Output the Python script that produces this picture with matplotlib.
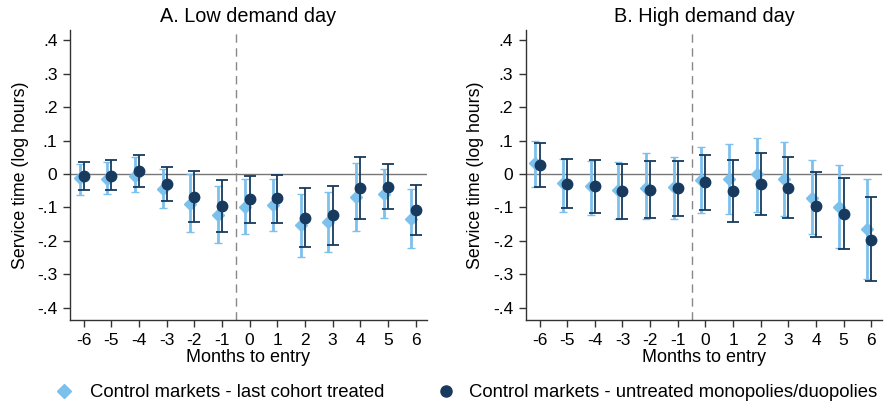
import matplotlib
matplotlib.use("Agg")
import matplotlib.pyplot as plt
import numpy as np
from matplotlib.lines import Line2D

plt.rcParams['font.family'] = ['Liberation Sans', 'DejaVu Sans']

months = [-6, -5, -4, -3, -2, -1, 0, 1, 2, 3, 4, 5, 6]
xtick_labels = ['-6', '-5', '-4', '-3', '-2', '-1', '0', '1', '2', '3', '4', '5', '6']
yticks = [-0.4, -0.3, -0.2, -0.1, 0.0, 0.1, 0.2, 0.3, 0.4]
ytick_labels = ['-.4', '-.3', '-.2', '-.1', '0', '.1', '.2', '.3', '.4']

# Panel A: low demand day
low_last_est = [-0.013, -0.015, -0.005, -0.045, -0.090, -0.122, -0.100, -0.093, -0.152, -0.144, -0.070, -0.060, -0.134]
low_last_hi = [0.030, 0.035, 0.050, 0.015, 0.000, -0.035, -0.015, -0.015, -0.060, -0.055, 0.032, 0.015, -0.045]
low_last_lo = [-0.062, -0.060, -0.055, -0.102, -0.172, -0.207, -0.179, -0.171, -0.247, -0.234, -0.169, -0.132, -0.221]
low_untr_est = [-0.007, -0.005, 0.010, -0.030, -0.068, -0.097, -0.075, -0.073, -0.131, -0.122, -0.042, -0.038, -0.106]
low_untr_hi = [0.035, 0.041, 0.057, 0.022, 0.008, -0.018, -0.005, -0.002, -0.043, -0.035, 0.050, 0.030, -0.033]
low_untr_lo = [-0.048, -0.048, -0.038, -0.082, -0.144, -0.174, -0.146, -0.147, -0.219, -0.211, -0.134, -0.104, -0.182]

# Panel B: high demand day
high_last_est = [0.033, -0.027, -0.035, -0.047, -0.042, -0.040, -0.018, -0.015, 0.000, -0.015, -0.072, -0.098, -0.164]
high_last_hi = [0.100, 0.045, 0.040, 0.037, 0.062, 0.052, 0.080, 0.089, 0.107, 0.097, 0.041, 0.027, -0.015]
high_last_lo = [-0.040, -0.114, -0.122, -0.134, -0.134, -0.134, -0.116, -0.120, -0.112, -0.124, -0.180, -0.220, -0.313]
high_untr_est = [0.028, -0.030, -0.037, -0.052, -0.047, -0.043, -0.025, -0.052, -0.030, -0.042, -0.095, -0.119, -0.196]
high_untr_hi = [0.092, 0.045, 0.042, 0.030, 0.038, 0.038, 0.058, 0.042, 0.062, 0.050, 0.005, -0.012, -0.070]
high_untr_lo = [-0.040, -0.102, -0.117, -0.134, -0.131, -0.126, -0.106, -0.144, -0.122, -0.132, -0.189, -0.224, -0.321]

titles = ['A. Low demand day', 'B. High demand day']
legend_labels = ['Control markets - last cohort treated', 'Control markets - untreated monopolies/duopolies']

light = '#7cc0ec'
dark = '#173a5e'

fig = plt.figure(figsize=(8.85, 4.09), dpi=100)
ax1 = fig.add_axes([0.079, 0.2176, 0.403, 0.709])
ax2 = fig.add_axes([0.594, 0.2176, 0.403, 0.709])

panels = [
    (ax1, low_last_est, low_last_lo, low_last_hi, low_untr_est, low_untr_lo, low_untr_hi),
    (ax2, high_last_est, high_last_lo, high_last_hi, high_untr_est, high_untr_lo, high_untr_hi),
]

x = np.array(months, dtype=float)
for i, (ax, le, ll, lh, ue, ul, uh) in enumerate(panels):
    ax.axhline(0, color='#777777', lw=1.0, zorder=1)
    ax.axvline(-0.5, color='#888888', lw=1.0, ls=(0, (6, 4)), zorder=1)
    le, ll, lh = np.array(le), np.array(ll), np.array(lh)
    ue, ul, uh = np.array(ue), np.array(ul), np.array(uh)
    ax.errorbar(x - 0.15, le, yerr=[le - ll, lh - le], fmt='D', color=light, ms=6,
                mec=light, ecolor=light, elinewidth=2.0, capsize=3, capthick=1.0, zorder=2)
    ax.errorbar(x, ue, yerr=[ue - ul, uh - ue], fmt='o', color=dark, ms=7.5,
                mec=dark, ecolor=dark, elinewidth=1.3, capsize=4, capthick=1.3, zorder=3)
    ax.set_xlim(-6.5, 6.4)
    ax.set_ylim(-0.436, 0.43)
    ax.set_xticks(months)
    ax.set_xticklabels(xtick_labels, fontsize=12.5)
    ax.set_yticks(yticks)
    ax.set_yticklabels(ytick_labels, fontsize=12.5)
    ax.tick_params(direction='out', length=5, width=1, color='#333333', pad=4)
    for s in ['top', 'right']:
        ax.spines[s].set_visible(False)
    for s in ['left', 'bottom']:
        ax.spines[s].set_color('#333333')
        ax.spines[s].set_linewidth(1.0)
    ax.set_title(titles[i], fontsize=14.3, pad=6)
    ax.set_xlabel('Months to entry', fontsize=13, labelpad=1)
    ax.set_ylabel('Service time (log hours)', fontsize=12.8, labelpad=6)

lh1 = Line2D([], [], marker='D', color=light, ls='none', ms=7)
lh2 = Line2D([], [], marker='o', color=dark, ls='none', ms=8)
leg1 = fig.legend([lh1], [legend_labels[0]], loc='center left', bbox_to_anchor=(0.062, 0.04),
                  frameon=False, fontsize=13.3, handletextpad=0.9, handlelength=1.0,
                  borderaxespad=0, borderpad=0)
leg2 = fig.legend([lh2], [legend_labels[1]], loc='center left', bbox_to_anchor=(0.494, 0.04),
                  frameon=False, fontsize=13.3, handletextpad=0.7, handlelength=1.0,
                  borderaxespad=0, borderpad=0)

fig.savefig('out.png', dpi=100)
